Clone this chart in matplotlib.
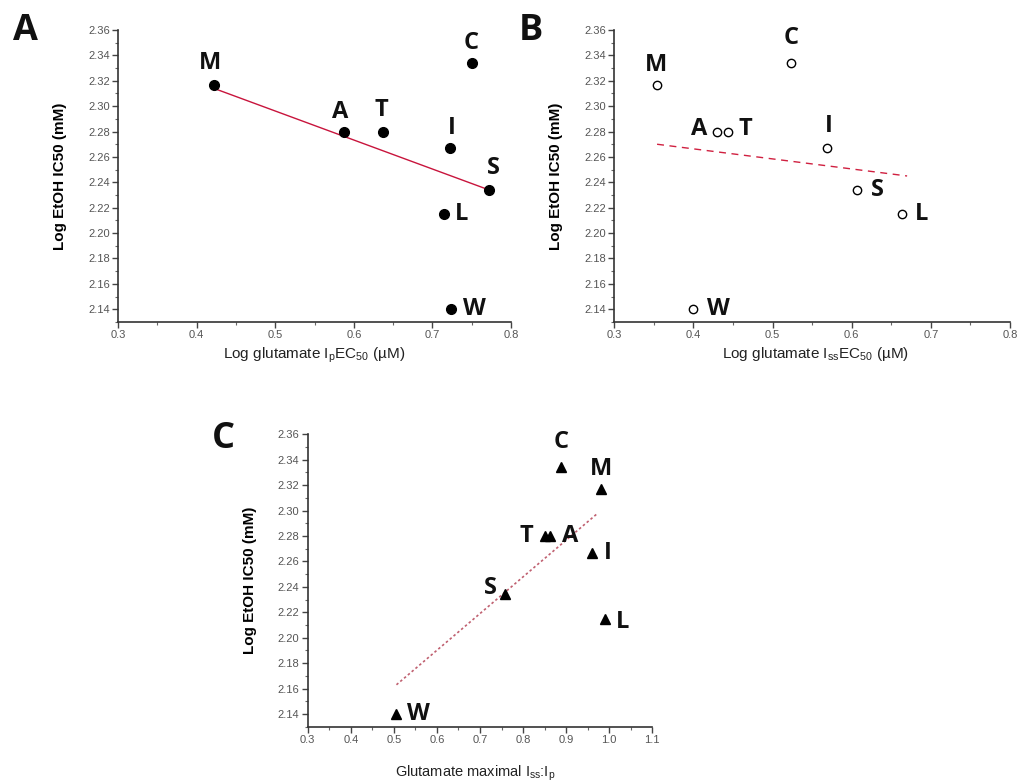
"""
Ethanol IC50 vs glutamate response parameters for eight receptor variants.
Three panels: Ip EC50, Iss EC50 and maximal Iss:Ip.
"""

import numpy as np
import matplotlib.pyplot as plt
from matplotlib.ticker import MultipleLocator, FormatStrFormatter

# ---- data ----
labels = ['M', 'A', 'T', 'I', 'C', 'S', 'L', 'W']
log_ic50 = [2.317, 2.280, 2.280, 2.267, 2.334, 2.234, 2.215, 2.140]

log_ip_ec50 = [0.422, 0.588, 0.637, 0.722, 0.750, 0.772, 0.714, 0.723]
log_iss_ec50 = [0.354, 0.430, 0.444, 0.569, 0.523, 0.607, 0.663, 0.399]
iss_ip_max = [0.981, 0.862, 0.852, 0.960, 0.888, 0.758, 0.990, 0.506]

# fitted lines (end points as drawn)
fit_a_x = [0.422, 0.772]
fit_a_y = [2.314, 2.234]
fit_b_x = [0.354, 0.670]
fit_b_y = [2.270, 2.245]
fit_c_x = [0.506, 0.970]
fit_c_y = [2.163, 2.297]

# label offsets in pixels (dx, dy) for each letter
off_a = [(-4, 22), (-4, 20), (-2, 22), (2, 20), (-1, 20), (4, 22), (18, 0), (24, 0)]
off_b = [(-1, 20), (-18, 3), (17, 3), (2, 22), (0, 25), (20, 0), (20, 0), (26, 0)]
off_c = [(0, 20), (20, 0), (-19, 0), (16, 0), (0, 25), (-15, 6), (18, -3), (22, 0)]

LETTER_FONT = ['Open Sans', 'DejaVu Sans']
AXIS_FONT = ['Liberation Sans', 'DejaVu Sans']


def style_axes(ax, xlim, xmajor, xfmt):
    """ Origin-like axes: left and bottom spines only, outward ticks """
    ax.set_xlim(*xlim)
    ax.set_ylim(2.13, 2.36)
    ax.spines['top'].set_visible(False)
    ax.spines['right'].set_visible(False)
    for s in ('left', 'bottom'):
        ax.spines[s].set_color('#333333')
        ax.spines[s].set_linewidth(1.2)
    ax.xaxis.set_major_locator(MultipleLocator(xmajor))
    ax.xaxis.set_minor_locator(MultipleLocator(xmajor / 2))
    ax.yaxis.set_minor_locator(MultipleLocator(0.01))
    ax.set_yticks(np.arange(2.14, 2.361, 0.02))
    ax.xaxis.set_major_formatter(FormatStrFormatter(xfmt))
    ax.yaxis.set_major_formatter(FormatStrFormatter('%.2f'))
    ax.tick_params(which='major', direction='out', length=4, width=1,
                   color='#444444', labelsize=8, labelcolor='#555555', pad=2)
    ax.tick_params(which='minor', direction='out', length=2.5, width=0.8,
                   color='#666666')
    for t in ax.get_xticklabels() + ax.get_yticklabels():
        t.set_family(AXIS_FONT)


def put_labels(ax, xs, ys, offsets):
    for name, x, y, (dx, dy) in zip(labels, xs, ys, offsets):
        ax.annotate(name, (x, y), xytext=(dx, dy), textcoords='offset pixels',
                    ha='center', va='center', fontsize=17, fontweight='bold',
                    family=LETTER_FONT, color='#111111')


def main():
    fig = plt.figure(figsize=(10.21, 7.83), dpi=100)

    # panel A
    ax_a = fig.add_axes([0.1156, 0.5888, 0.385, 0.3729])
    style_axes(ax_a, (0.3, 0.8), 0.1, '%.1f')
    ax_a.plot(fit_a_x, fit_a_y, color='#c8143c', lw=1.0, zorder=1)
    ax_a.plot(log_ip_ec50, log_ic50, 'o', color='black', ms=7, zorder=2)
    put_labels(ax_a, log_ip_ec50, log_ic50, off_a)
    ax_a.set_ylabel('Log EtOH IC50 (mM)', fontsize=11, fontweight='bold',
                    family=AXIS_FONT)
    ax_a.yaxis.set_label_coords(-0.13, 0.5)
    ax_a.set_xlabel(r'Log glutamate I$\mathregular{_{p}}$EC$\mathregular{_{50}}$ (µM)',
                    fontsize=11, family=AXIS_FONT, color='#222222')
    ax_a.xaxis.set_label_coords(0.5, -0.08)

    # panel B
    ax_b = fig.add_axes([0.6017, 0.5888, 0.3875, 0.3729])
    style_axes(ax_b, (0.3, 0.8), 0.1, '%.1f')
    ax_b.plot(fit_b_x, fit_b_y, color='#d02040', lw=1.0, ls=(0, (5, 4)), zorder=1)
    ax_b.plot(log_iss_ec50, log_ic50, 'o', mfc='white', mec='black', mew=1.0,
              ms=6, zorder=2)
    put_labels(ax_b, log_iss_ec50, log_ic50, off_b)
    ax_b.set_ylabel('Log EtOH IC50 (mM)', fontsize=11, fontweight='bold',
                    family=AXIS_FONT)
    ax_b.yaxis.set_label_coords(-0.129, 0.5)
    ax_b.set_xlabel(r'Log glutamate I$\mathregular{_{ss}}$EC$\mathregular{_{50}}$ (µM)',
                    fontsize=11, family=AXIS_FONT, color='#222222')
    ax_b.xaxis.set_label_coords(0.508, -0.08)

    # panel C
    ax_c = fig.add_axes([0.3014, 0.0719, 0.3375, 0.3734])
    style_axes(ax_c, (0.3, 1.1), 0.1, '%.1f')
    ax_c.plot(fit_c_x, fit_c_y, color='#c06070', lw=1.2, ls=(0, (1.5, 1.5)),
              zorder=1)
    ax_c.plot(iss_ip_max, log_ic50, '^', color='black', ms=7, zorder=2)
    put_labels(ax_c, iss_ip_max, log_ic50, off_c)
    ax_c.set_ylabel('Log EtOH IC50 (mM)', fontsize=11, fontweight='bold',
                    family=AXIS_FONT)
    ax_c.yaxis.set_label_coords(-0.147, 0.5)
    ax_c.set_xlabel(r'Glutamate maximal I$\mathregular{_{ss}}$:I$\mathregular{_{p}}$',
                    fontsize=10.5, family=AXIS_FONT, color='#222222')
    ax_c.xaxis.set_label_coords(0.486, -0.125)

    # panel letters
    for letter, x, y in [('A', 0.0245, 0.9598), ('B', 0.520, 0.961),
                         ('C', 0.219, 0.4393)]:
        fig.text(x, y, letter, ha='center', va='center', fontsize=26,
                 fontweight='bold', family=LETTER_FONT, color='#111111')

    fig.savefig('out.png', dpi=100)


if __name__ == '__main__':
    main()
